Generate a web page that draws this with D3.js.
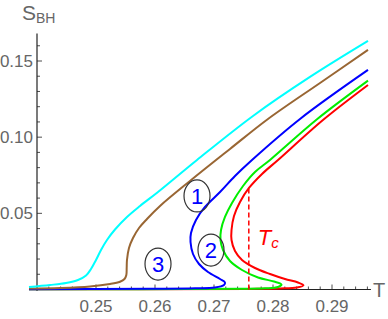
<!DOCTYPE html>
<html><head><meta charset="utf-8">
<script src="https://cdn.jsdelivr.net/npm/d3@7"></script>
<style>body{margin:0;background:#fff}svg{display:block}</style>
</head><body>
<svg id="c" width="388" height="319"></svg>
<script>
// [T, S] points, ordered along each curve
const cyanPts = [[0.23864,0.00164],[0.2422,0.00295],[0.24492,0.00427],[0.24695,0.00624],[0.24831,0.00919],[0.24915,0.01346],[0.25,0.01937],[0.25085,0.02594],[0.25186,0.03251],[0.25322,0.03939],[0.25525,0.04760],[0.25746,0.05483],[0.26051,0.06402],[0.26712,0.08503],[0.27661,0.11392],[0.28627,0.13953],[0.2961,0.16317]];
const brownPts = [[0.23864,0.00059],[0.2439,0.00098],[0.24898,0.00197],[0.25237,0.00361],[0.25407,0.00512],[0.25483,0.00689],[0.25514,0.00952],[0.2552,0.01412],[0.25525,0.01937],[0.25559,0.02725],[0.25627,0.03381],[0.25729,0.04038],[0.25864,0.04629],[0.26085,0.05483],[0.26593,0.07124],[0.27271,0.09225],[0.27915,0.11195],[0.28797,0.13559],[0.2961,0.15726]];
const bluePts = [[0.2961,0.14413],[0.28458,0.11195],[0.27644,0.08503],[0.27356,0.07452],[0.27102,0.06402],[0.26847,0.05417],[0.26695,0.04563],[0.2661,0.0371],[0.26602,0.03119],[0.26644,0.02331],[0.26746,0.01674],[0.26898,0.01149],[0.27102,0.00689],[0.27186,0.0046],[0.27169,0.00295],[0.27017,0.00131],[0.26678,0.00079],[0.25915,0.00046],[0.23864,0.0002]];
const greenPts = [[0.2961,0.1371],[0.28746,0.11175],[0.27949,0.08503],[0.27695,0.07715],[0.27492,0.06796],[0.27305,0.0568],[0.27186,0.0476],[0.27119,0.03907],[0.2711,0.03251],[0.27153,0.02594],[0.27271,0.01871],[0.27475,0.01281],[0.27746,0.00788],[0.28017,0.00525],[0.28144,0.00328],[0.28085,0.00164],[0.27864,0.00079],[0.27441,0.00046],[0.23864,0.00013]];
const redPts = [[0.2961,0.13428],[0.28847,0.11129],[0.28085,0.08503],[0.27814,0.07584],[0.27593,0.06664],[0.27441,0.05745],[0.27339,0.04826],[0.27297,0.03907],[0.27297,0.03251],[0.27356,0.02528],[0.27475,0.01937],[0.27695,0.01412],[0.2795,0.01018],[0.28203,0.00689],[0.28424,0.0046],[0.28517,0.00276],[0.28407,0.00131],[0.28119,0.00066],[0.2761,0.00039],[0.23864,0.00013]];
const Tc = 0.2759, ScTop = 0.0666;
const xTicks = [0.25,0.26,0.27,0.28,0.29];
const xTickLabels = ["0.25","0.26","0.27","0.28","0.29"];
const yTicks = [0.05,0.10,0.15];
const yTickLabels = ["0.05","0.10","0.15"];
const labels = [{t:"1",T:0.26712,S:0.0614},{t:"2",T:0.26949,S:0.0259},{t:"3",T:0.26051,S:0.0167}];

const svg = d3.select("#c");
const x = d3.scaleLinear().domain([0.24,0.29]).range([37,332]);
const y = d3.scaleLinear().domain([0,0.15]).range([289.5,61]);
const xMin = 0.23864, xMax = 0.2966, yMax = 0.168;

const line = d3.line().x(d=>x(d[0])).y(d=>y(d[1])).curve(d3.curveCatmullRom.alpha(0.5));
const series = [[redPts,"#ff0000"],[greenPts,"#00ee00"],[bluePts,"#0000ff"],[brownPts,"#996633"],[cyanPts,"#00ffff"]];

const axisCol = "#222", labCol = "#666";
// axes
const gx = svg.append("g");
gx.append("line").attr("x1",x(xMin)).attr("x2",x(xMax)).attr("y1",y(0)).attr("y2",y(0)).attr("stroke",axisCol).attr("stroke-width",1.2);
d3.range(0.242,0.2961,0.002).forEach(v=>{
  const major = xTicks.some(t=>Math.abs(t-v)<1e-6);
  gx.append("line").attr("x1",x(v)).attr("x2",x(v)).attr("y1",y(0)).attr("y2",y(0)-(major?5:3)).attr("stroke",axisCol).attr("stroke-width",0.8);
});
xTicks.forEach((v,i)=>gx.append("text").attr("x",x(v)).attr("y",y(0)+22).attr("text-anchor","middle").attr("fill",labCol).attr("font-family","Liberation Sans, Arial, sans-serif").attr("font-size",17).text(xTickLabels[i]));
const gy = svg.append("g");
gy.append("line").attr("x1",x(0.24)).attr("x2",x(0.24)).attr("y1",y(0)+1.5).attr("y2",y(yMax)).attr("stroke",axisCol).attr("stroke-width",1.2);
d3.range(0.01,0.1651,0.01).forEach(v=>{
  const major = yTicks.some(t=>Math.abs(t-v)<1e-6);
  gy.append("line").attr("x1",x(0.24)).attr("x2",x(0.24)+(major?5:3)).attr("y1",y(v)).attr("y2",y(v)).attr("stroke",axisCol).attr("stroke-width",0.8);
});
yTicks.forEach((v,i)=>gy.append("text").attr("x",x(0.24)-4).attr("y",y(v)+6).attr("text-anchor","end").attr("fill",labCol).attr("font-family","Liberation Sans, Arial, sans-serif").attr("font-size",17).text(yTickLabels[i]));

// axis titles
const st = svg.append("text").attr("x",22).attr("y",20).attr("fill",labCol).attr("font-family","Liberation Sans, Arial, sans-serif");
st.append("tspan").attr("font-size",21).text("S");
st.append("tspan").attr("font-size",14).attr("dy",3).text("BH");
svg.append("text").attr("x",373).attr("y",297).attr("fill",labCol).attr("font-family","Liberation Sans, Arial, sans-serif").attr("font-size",20).text("T");

// curves
series.forEach(([pts,c])=>svg.append("path").attr("d",line(pts)).attr("fill","none").attr("stroke",c).attr("stroke-width",2));

// Tc dashed
svg.append("line").attr("x1",x(Tc)).attr("x2",x(Tc)).attr("y1",y(0)).attr("y2",y(ScTop)).attr("stroke","#ff0000").attr("stroke-width",1.5).attr("stroke-dasharray","5,3");
const tc = svg.append("text").attr("x",x(Tc)+9).attr("y",245).attr("fill","#ff0000").attr("font-family","Liberation Sans, Arial, sans-serif").attr("font-style","italic");
tc.append("tspan").attr("font-size",22).text("T");
tc.append("tspan").attr("font-size",15).attr("dy",3).text("c");

// circled numbers
labels.forEach(l=>{
  svg.append("ellipse").attr("cx",x(l.T)).attr("cy",y(l.S)).attr("rx",13).attr("ry",16).attr("fill","none").attr("stroke","#333").attr("stroke-width",1.2);
  svg.append("text").attr("x",x(l.T)).attr("y",y(l.S)+8).attr("text-anchor","middle").attr("fill","#0000ff").attr("font-family","Liberation Sans, Arial, sans-serif").attr("font-size",22).text(l.t);
});
</script>
</body></html>
